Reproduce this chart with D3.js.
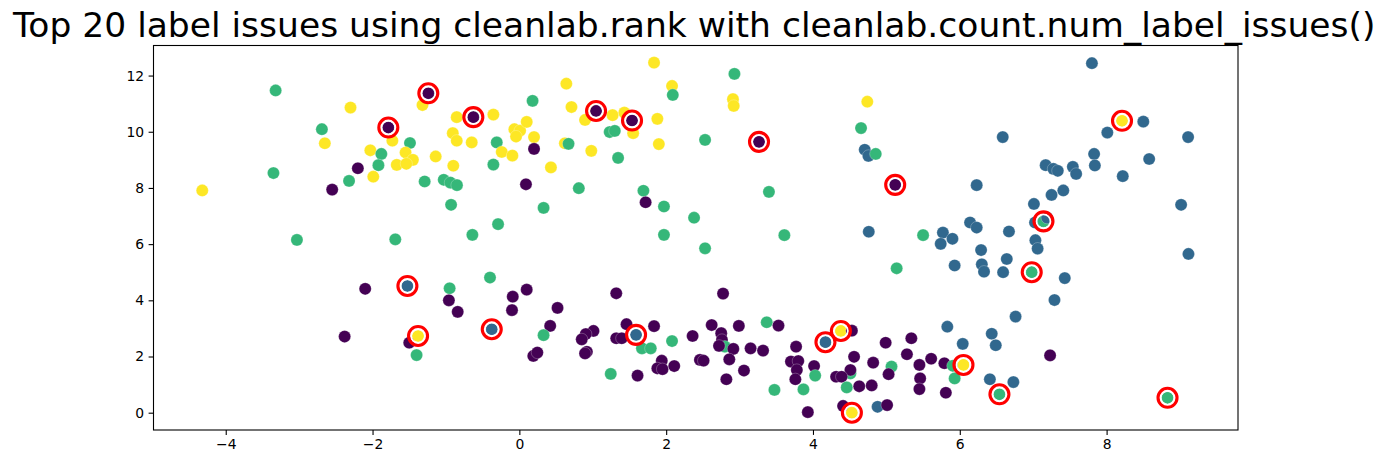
<!DOCTYPE html>
<html><head><meta charset="utf-8">
<script src="https://cdn.jsdelivr.net/npm/d3@7"></script>
<style>body{margin:0;background:#fff;}svg{display:block;font-family:"DejaVu Sans",sans-serif;}</style>
</head><body>
<svg id="c" width="1391" height="464"></svg>
<script>
const titleText = "Top 20 label issues using cleanlab.rank with cleanlab.count.num_label_issues()";
const classColors = ["#440154", "#31688e", "#35b779", "#fde725"];
const xTicks = [-4, -2, 0, 2, 4, 6, 8];
const yTicks = [0, 2, 4, 6, 8, 10, 12];
// point x, y, given label (0..3), flagged issue (1)
const ptX = [-3.32,-2.30,-2.69,-2.65,-1.73,-1.49,-2.03,-1.88,-1.55,-1.45,-1.67,-1.54,-1.92,-2.20,-1.99,-2.32,-2.55,-3.35,-4.32,-1.29,-3.03,-1.69,-1.32,-1.20,-1.24,-1.785,-0.60,-0.627,-0.354,-0.853,-0.907,-0.853,-0.649,-1.14,-0.90,-0.308,-0.24,-0.095,-0.354,-0.068,0.01,0.10,-0.045,0.20,0.20,0.43,0.18,0.64,0.71,0.99,1.045,0.895,1.27,1.43,1.55,1.535,1.88,1.90,1.835,2.08,2.09,1.23,1.30,0.62,0.67,0.98,1.345,-1.03,-0.94,-0.85,0.09,0.81,1.69,1.72,1.97,2.38,-0.93,0.33,-0.29,-0.64,1.97,2.53,2.93,2.91,2.92,3.265,3.40,3.61,2.53,4.74,4.655,4.705,4.755,4.855,5.12,4.76,5.50,5.77,5.74,5.90,6.14,5.14,5.93,
7.80,8.21,8.50,8.01,6.585,9.11,7.83,8.58,7.84,8.22,7.17,7.275,7.335,7.54,7.585,6.23,7.41,7.25,7.01,9.015,7.025,7.14,7.19,6.23,6.67,7.03,7.06,6.29,6.64,6.30,6.33,6.59,6.98,7.43,7.29,6.76,6.435,6.49,6.04,7.23,6.41,6.73,6.54,8.83,9.115,5.83,
-2.10,-1.525,-2.38,-1.50,-1.38,-1.40,-0.40,-0.95,-0.96,-0.84,-0.376,0.10,-0.09,-0.10,0.52,0.42,0.33,0.19,0.245,1.32,1.01,0.905,0.85,0.92,0.895,1.32,1.395,1.46,1.67,1.79,1.59,1.835,2.08,2.36,1.94,1.88,1.95,2.11,1.245,1.61,2.46,
2.775,2.62,2.99,3.37,3.53,2.75,2.76,2.80,2.72,2.915,3.15,3.32,2.51,2.86,3.06,2.82,3.77,3.70,3.80,3.78,3.76,3.475,3.87,3.93,4.015,4.03,4.17,4.38,4.53,4.56,4.51,4.51,4.315,4.39,4.46,4.63,4.80,4.82,4.41,4.53,4.88,5.01,4.99,5.34,5.28,5.07,5.03,5.45,5.61,5.46,5.45,5.79,5.905,5.93,5.81,6.05];
const ptY = [11.47,10.86,10.09,9.59,9.68,9.60,9.34,9.21,9.26,9.00,8.82,8.86,8.81,8.70,8.40,8.25,7.94,8.53,7.91,8.23,6.15,6.17,10.95,11.33,11.37,10.15,10.58,10.52,10.61,10.52,9.95,9.68,9.62,9.12,8.79,9.62,9.28,9.15,8.83,10.09,10.04,10.35,9.83,9.81,9.39,8.73,11.10,11.71,10.88,10.84,10.74,10.42,10.59,10.68,9.95,10.40,10.46,9.56,12.46,11.63,11.31,9.99,10.03,9.59,9.57,9.32,9.07,8.29,8.19,8.10,8.13,7.99,7.90,7.49,7.34,6.94,7.40,7.29,6.71,6.33,6.33,9.71,12.06,11.16,10.92,9.64,7.86,6.32,5.85,11.07,10.13,9.36,9.14,9.21,8.11,6.44,6.32,6.41,6.01,6.19,6.77,5.14,5.24,
12.44,10.39,10.36,9.97,9.81,9.81,9.21,9.03,8.80,8.42,8.81,8.68,8.61,8.75,8.50,8.10,7.91,7.75,7.43,7.40,6.77,6.81,6.94,6.59,6.45,6.14,5.84,5.79,5.47,5.28,5.02,5.00,5.00,4.79,4.01,3.42,2.81,2.40,2.45,2.04,1.19,1.09,0.655,0.53,5.65,3.06,
4.41,4.51,2.71,2.49,2.73,2.05,4.81,4.43,4.00,3.59,2.97,4.38,4.13,3.65,3.73,3.09,2.76,2.02,2.14,4.25,2.91,2.80,2.61,2.17,2.11,2.65,2.65,3.15,2.29,2.29,2.77,3.08,2.55,2.73,1.85,1.58,1.55,1.66,1.38,1.32,1.88,
4.24,3.12,3.09,3.22,3.10,2.83,2.59,2.35,2.38,2.27,2.29,2.21,1.85,1.90,1.50,1.19,2.35,1.82,1.84,1.52,1.19,0.81,0.83,0.02,1.66,1.32,2.51,2.91,2.92,1.99,1.40,1.52,1.28,1.28,0.90,0.94,0.97,1.78,0.24,0.00,0.21,0.27,2.49,2.65,2.08,1.64,1.37,1.70,1.92,1.22,0.84,1.76,1.67,1.22,0.71,1.70];
const ptLabel = [2,3,2,3,3,2,3,2,3,3,3,3,2,0,3,2,0,2,3,2,2,2,3,2,0,0,2,0,3,3,3,3,3,3,3,2,3,3,2,3,3,3,3,3,0,3,2,3,3,3,0,3,3,3,3,0,3,3,3,3,2,2,2,3,2,3,2,2,2,2,0,2,2,0,2,2,2,2,2,2,2,2,2,3,3,0,2,2,2,3,2,1,1,2,0,1,2,1,1,1,1,2,1,
1,3,1,1,1,1,1,1,1,1,1,1,1,1,1,1,1,1,1,1,1,2,1,1,1,1,1,1,1,1,1,1,2,1,1,1,1,1,1,0,1,1,2,2,1,1,
0,1,0,0,3,2,2,2,0,0,1,0,0,0,0,0,2,0,0,0,0,0,0,0,0,0,0,0,2,2,1,0,2,0,0,0,0,0,2,0,0,
0,0,0,2,0,0,0,2,0,0,0,0,0,0,0,0,0,0,0,0,0,2,2,0,0,2,1,3,0,0,2,0,0,0,2,0,0,0,0,3,1,0,0,0,0,2,0,0,0,0,0,0,2,2,0,3];
const ptIssue = [0,0,0,0,0,0,0,0,0,0,0,0,0,0,0,0,0,0,0,0,0,0,0,0,1,1,0,1,0,0,0,0,0,0,0,0,0,0,0,0,0,0,0,0,0,0,0,0,0,0,1,0,0,0,0,1,0,0,0,0,0,0,0,0,0,0,0,0,0,0,0,0,0,0,0,0,0,0,0,0,0,0,0,0,0,1,0,0,0,0,0,0,0,0,1,0,0,0,0,0,0,0,0,
0,1,0,0,0,0,0,0,0,0,0,0,0,0,0,0,0,0,0,0,0,1,0,0,0,0,0,0,0,0,0,0,1,0,0,0,0,0,0,0,0,0,1,1,0,0,
0,1,0,0,1,0,0,0,0,0,1,0,0,0,0,0,0,0,0,0,0,0,0,0,0,0,0,0,0,0,1,0,0,0,0,0,0,0,0,0,0,
0,0,0,0,0,0,0,0,0,0,0,0,0,0,0,0,0,0,0,0,0,0,0,0,0,0,1,1,0,0,0,0,0,0,0,0,0,0,0,1,0,0,0,0,0,0,0,0,0,0,0,0,0,0,0,1];

const points = ptX.map((x, i) => ({x, y: ptY[i], label: ptLabel[i], issue: ptIssue[i] === 1}));

const svg = d3.select("#c");
const L = 153.5, R = 1238, T = 45.5, B = 430;
const x = d3.scaleLinear().domain([-4.984, 9.79]).range([L, R]);
const y = d3.scaleLinear().domain([-0.616, 13.07]).range([B, T]);

svg.append("text").attr("x", (L + R) / 2 - 1.5).attr("y", 36.7).attr("text-anchor", "middle")
  .attr("font-size", 34.5).attr("fill", "#000").text(titleText);

const g = svg.append("g");
g.selectAll("circle.pt").data(points).join("circle").attr("class", "pt")
  .attr("cx", d => x(d.x)).attr("cy", d => y(d.y)).attr("r", 6.1)
  .attr("fill", d => classColors[d.label]).attr("stroke", "#fff").attr("stroke-opacity", 0.5).attr("stroke-width", 0.5);

const iss = points.filter(d => d.issue);
g.selectAll("circle.wr").data(iss).join("circle").attr("class", "wr")
  .attr("cx", d => x(d.x)).attr("cy", d => y(d.y)).attr("r", 7.1)
  .attr("fill", "none").attr("stroke", "#fff").attr("stroke-width", 2);
g.selectAll("circle.rr").data(iss).join("circle").attr("class", "rr")
  .attr("cx", d => x(d.x)).attr("cy", d => y(d.y)).attr("r", 9.5)
  .attr("fill", "none").attr("stroke", "#ff0000").attr("stroke-width", 3.1);

const xAxis = svg.append("g").attr("transform", `translate(0,${B})`)
  .call(d3.axisBottom(x).tickValues(xTicks).tickSize(4.9).tickPadding(4.5).tickFormat(d => d < 0 ? "\u2212" + Math.abs(d) : d));
const yAxis = svg.append("g").attr("transform", `translate(${L},0)`)
  .call(d3.axisLeft(y).tickValues(yTicks).tickSize(4.9).tickPadding(4.5));
[xAxis, yAxis].forEach(a => {
  a.select(".domain").remove();
  a.selectAll(".tick line").attr("stroke", "#000").attr("stroke-width", 1.1);
  a.selectAll(".tick text").attr("font-size", 13.9).attr("fill", "#000").attr("font-family", "DejaVu Sans");
});
svg.append("rect").attr("x", L).attr("y", T).attr("width", R - L).attr("height", B - T)
  .attr("fill", "none").attr("stroke", "#000").attr("stroke-width", 1.1);
</script>
</body></html>
